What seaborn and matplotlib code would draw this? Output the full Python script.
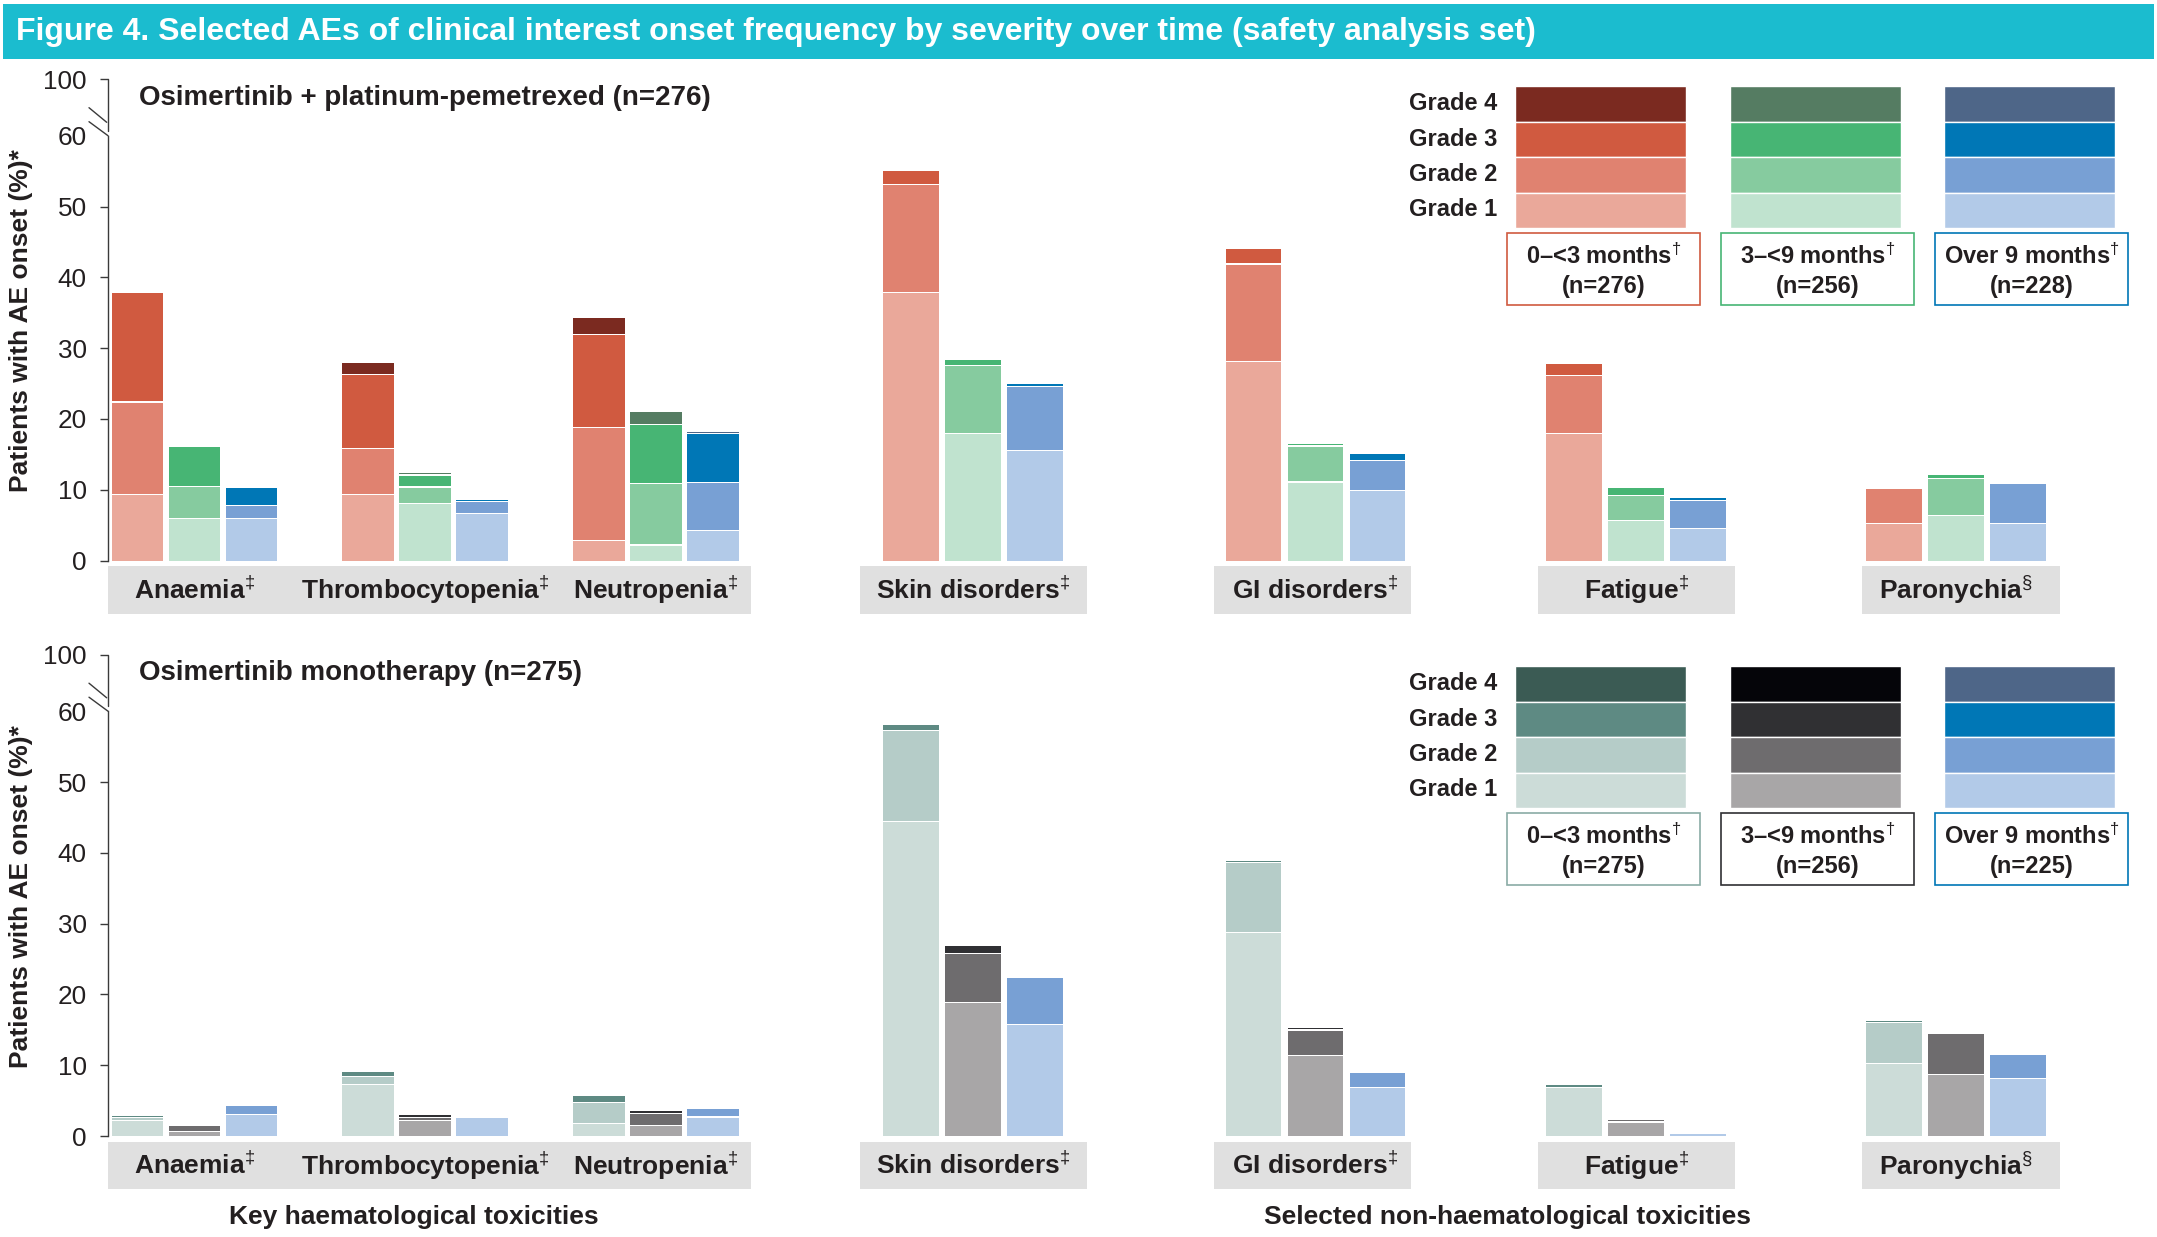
import numpy as np
import pandas as pd
import matplotlib
matplotlib.use("Agg")
import matplotlib.pyplot as plt
from matplotlib.patches import Rectangle
import seaborn as sns

# ------------------------------------------------------------------ data
categories = ["Anaemia", "Thrombocytopenia", "Neutropenia",
              "Skin disorders", "GI disorders", "Fatigue", "Paronychia"]
category_labels = ["Anaemia$^{‡}$", "Thrombocytopenia$^{‡}$", "Neutropenia$^{‡}$",
                   "Skin disorders$^{‡}$", "GI disorders$^{‡}$", "Fatigue$^{‡}$",
                   "Paronychia$^{§}$"]
haem_categories = ["Anaemia", "Thrombocytopenia", "Neutropenia"]
periods = ["0–<3 months", "3–<9 months", "Over 9 months"]
grades = ["Grade 1", "Grade 2", "Grade 3", "Grade 4"]

combo_title = "Osimertinib + platinum-pemetrexed (n=276)"
mono_title = "Osimertinib monotherapy (n=275)"
combo_period_n = [276, 256, 228]
mono_period_n = [275, 256, 225]

# Osimertinib + platinum-pemetrexed: % of patients, segment per grade
combo_p1_g1 = [9.2, 9.2, 2.7, 37.8, 28.0, 17.9, 5.1]
combo_p1_g2 = [13.1, 6.6, 16.0, 15.2, 13.8, 8.1, 5.0]
combo_p1_g3 = [15.5, 10.4, 13.1, 2.0, 2.2, 1.7, 0.0]
combo_p1_g4 = [0.0, 1.7, 2.5, 0.0, 0.0, 0.0, 0.0]

combo_p2_g1 = [5.8, 8.0, 2.1, 17.9, 11.0, 5.6, 6.3]
combo_p2_g2 = [4.6, 2.3, 8.7, 9.6, 5.1, 3.5, 5.2]
combo_p2_g3 = [5.6, 1.7, 8.3, 0.8, 0.4, 1.2, 0.6]
combo_p2_g4 = [0.0, 0.3, 1.9, 0.0, 0.0, 0.0, 0.0]

combo_p3_g1 = [5.9, 6.5, 4.2, 15.4, 9.8, 4.5, 5.2]
combo_p3_g2 = [1.8, 1.7, 6.7, 9.1, 4.3, 3.9, 5.6]
combo_p3_g3 = [2.6, 0.4, 6.9, 0.4, 0.9, 0.4, 0.0]
combo_p3_g4 = [0.0, 0.0, 0.4, 0.0, 0.0, 0.0, 0.0]

# Osimertinib monotherapy
mono_p1_g1 = [2.1, 7.2, 1.7, 44.3, 28.7, 6.8, 10.1]
mono_p1_g2 = [0.4, 1.1, 2.9, 12.9, 9.8, 0.0, 5.8]
mono_p1_g3 = [0.3, 0.7, 1.0, 0.8, 0.4, 0.35, 0.3]
mono_p1_g4 = [0.0, 0.0, 0.0, 0.0, 0.0, 0.0, 0.0]

mono_p2_g1 = [0.6, 2.1, 1.4, 18.8, 11.3, 1.9, 8.6]
mono_p2_g2 = [0.8, 0.4, 1.7, 6.9, 3.6, 0.35, 5.8]
mono_p2_g3 = [0.0, 0.4, 0.4, 1.1, 0.3, 0.0, 0.0]
mono_p2_g4 = [0.0, 0.0, 0.0, 0.0, 0.0, 0.0, 0.0]

mono_p3_g1 = [3.0, 2.5, 2.6, 15.7, 6.8, 0.3, 8.0]
mono_p3_g2 = [1.3, 0.0, 1.2, 6.6, 2.1, 0.0, 3.4]
mono_p3_g3 = [0.0, 0.0, 0.0, 0.0, 0.0, 0.0, 0.0]
mono_p3_g4 = [0.0, 0.0, 0.0, 0.0, 0.0, 0.0, 0.0]

y_ticks = [0, 10, 20, 30, 40, 50, 60]

# ------------------------------------------------------------------ style
combo_colors = [["#EAA89A", "#E08270", "#D05A40", "#7B2A20"],
                ["#C0E3CF", "#86CB9F", "#47B574", "#557C62"],
                ["#B2CAE8", "#78A0D4", "#0077B6", "#4E6688"]]
mono_colors = [["#CCDCD8", "#B5CCC8", "#5E8A83", "#3B5B54"],
               ["#A8A6A7", "#6E6C6E", "#303033", "#050509"],
               ["#B2CAE8", "#78A0D4", "#0077B6", "#4E6688"]]
combo_box_edges = ["#D05A40", "#47B574", "#0077B6"]
mono_box_edges = ["#8AABA5", "#303033", "#0077B6"]
TXT = "#231F20"
LABEL_BG = "#E0E0E0"
HEADER = "#1BBCCF"
SEP_GAP = 0.16   # white separator between stacked segments (data units)

sns.set_theme(style="white")
plt.rcParams["font.family"] = ["Liberation Sans", "DejaVu Sans"]
plt.rcParams["mathtext.fontset"] = "custom"
plt.rcParams["mathtext.rm"] = "Liberation Sans"
plt.rcParams["mathtext.bf"] = "Liberation Sans:bold"
plt.rcParams["mathtext.it"] = "Liberation Sans:italic"

W, H = 2157, 1237
fig = plt.figure(figsize=(W / 100, H / 100), dpi=100)

# layout (figure pixels)
group_centers = [194.5, 425, 656, 973, 1315.5, 1636, 1956]
pitch_haem, pitch_other = 57, 62
bar_frac = 0.895
ax_left_px, ax_right_px = 107.7, 2150
px_per_unit = 7.08
ymax = 70
break_top = 68.0          # data position at which "100" is drawn
panel_base = [560.5, 1136.0]  # y pixel of value 0

# ------------------------------------------------------------------ dataframe
panel_series = {
    "combo": [[combo_p1_g1, combo_p1_g2, combo_p1_g3, combo_p1_g4],
              [combo_p2_g1, combo_p2_g2, combo_p2_g3, combo_p2_g4],
              [combo_p3_g1, combo_p3_g2, combo_p3_g3, combo_p3_g4]],
    "mono": [[mono_p1_g1, mono_p1_g2, mono_p1_g3, mono_p1_g4],
             [mono_p2_g1, mono_p2_g2, mono_p2_g3, mono_p2_g4],
             [mono_p3_g1, mono_p3_g2, mono_p3_g3, mono_p3_g4]],
}
rows = []
for panel, per_period in panel_series.items():
    for pi, glists in enumerate(per_period):
        cum = np.cumsum(np.array(glists, dtype=float), axis=0)
        for gi in range(4):
            for ci, cat in enumerate(categories):
                haem = cat in haem_categories
                pitch = pitch_haem if haem else pitch_other
                below = cum[gi - 1, ci] if gi > 0 else 0.0
                rows.append(dict(panel=panel, period=periods[pi], grade=gi,
                                 category=cat, side="haem" if haem else "other",
                                 xpos=group_centers[ci] + (pi - 1) * pitch,
                                 cum=cum[gi, ci],
                                 sep=below + SEP_GAP if below > 0 else 0.0))
df = pd.DataFrame(rows)

# ------------------------------------------------------------------ overlay (figure px)
ov = fig.add_axes([0, 0, 1, 1], zorder=0)
ov.set_xlim(0, W)
ov.set_ylim(H, 0)
ov.axis("off")

ov.add_patch(Rectangle((3, 4), W - 6, 55, color=HEADER, lw=0))
ov.text(16, 32, "Figure 4. Selected AEs of clinical interest onset frequency by severity over time (safety analysis set)",
        color="white", fontsize=23, fontweight="bold", va="center", ha="left")

panels = [("combo", combo_title, combo_colors, combo_box_edges, combo_period_n),
          ("mono", mono_title, mono_colors, mono_box_edges, mono_period_n)]
leg_offsets = [0, 580]
label_boxes = [(108, 643), (860, 227), (1214, 197), (1538, 197), (1862, 198)]

for k, (pname, title, colors, edges, ns) in enumerate(panels):
    base = panel_base[k]
    dy = base - panel_base[0]
    ax = fig.add_axes([ax_left_px / W, 1 - base / H,
                       (ax_right_px - ax_left_px) / W, ymax * px_per_unit / H], zorder=2)
    ax.patch.set_alpha(0)
    for gi in [3, 2, 1, 0]:
        for side in ["haem", "other"]:
            sub = df[(df.panel == pname) & (df.grade == gi) & (df.side == side)]
            pal = {periods[p]: colors[p][gi] for p in range(3)}
            sns.barplot(data=sub, x="xpos", y="cum", hue="period", palette=pal,
                        hue_order=periods, native_scale=True, dodge=False,
                        width=bar_frac, errorbar=None, saturation=1, orient="x",
                        linewidth=0, legend=False, ax=ax)
            if gi > 0:
                # white separator carved above the next lower segment
                sns.barplot(data=sub, x="xpos", y="sep", color="white",
                            native_scale=True, width=bar_frac + 0.02, errorbar=None,
                            saturation=1, orient="x", linewidth=0, ax=ax)
    ax.set_xlim(ax_left_px, ax_right_px)
    ax.set_ylim(0, ymax)
    ax.set_xlabel("")
    ax.set_ylabel("")
    ax.set_xticks([])
    ax.set_yticks(y_ticks + [break_top])
    ax.set_yticklabels([str(t) for t in y_ticks] + ["100"], fontsize=18.8, color=TXT)
    ax.tick_params(axis="y", direction="out", length=6, width=1, color="#3a3a3a",
                   pad=9, left=True)
    ax.yaxis.get_major_ticks()[6].tick1line.set_visible(False)
    for s in ["top", "right", "bottom"]:
        ax.spines[s].set_visible(False)
    ax.spines["left"].set_bounds(0, 60)
    ax.spines["left"].set_color("#3a3a3a")
    ax.spines["left"].set_linewidth(1)
    ax.plot([0, 0], [60.7, break_top], transform=ax.get_yaxis_transform(),
            color="#3a3a3a", lw=1, clip_on=False)

    # axis-break slashes
    ov.plot([89, 106.7], [107.7 + dy, 122.3 + dy], color="#3a3a3a", lw=1)
    ov.plot([89, 108], [121.7 + dy, 135.7 + dy], color="#3a3a3a", lw=1)

    # y label
    ov.text(20.6, 321 + dy, "Patients with AE onset (%)*", rotation=90, ha="center",
            va="center", fontsize=19, fontweight="bold", color=TXT)
    # panel title
    ov.text(139, 97.7 + dy, title, ha="left", va="center", fontsize=20,
            fontweight="bold", color=TXT)
    # category label boxes
    for (bx, bw) in label_boxes:
        ov.add_patch(Rectangle((bx, 566 + dy), bw, 47.6, color=LABEL_BG, lw=0))
    for c, lab in zip(group_centers, category_labels):
        ov.text(c, 590 + dy, lab, ha="center", va="center", fontsize=19,
                fontweight="bold", color=TXT)

    # legend
    lo = leg_offsets[k]
    row_tops = [86, 121.5, 157, 192.5]  # grade 4 .. grade 1
    for r, gi in enumerate([3, 2, 1, 0]):
        ov.text(1497, row_tops[r] + 17.5 + lo, grades[gi], ha="right", va="center",
                fontsize=17, fontweight="bold", color=TXT)
        for p, sx in enumerate([1515, 1730, 1944]):
            ov.add_patch(Rectangle((sx, row_tops[r] + lo), 171, 35.5,
                                   facecolor=colors[p][gi], edgecolor="white", lw=1))
    for p, bx in enumerate([1507, 1721, 1935]):
        ov.add_patch(Rectangle((bx, 232.7 + lo), 193, 72.3, facecolor="none",
                               edgecolor=edges[p], lw=1.2))
        ov.text(bx + 96.5, 256.7 + lo, periods[p] + "$^{†}$", ha="center", va="center",
                fontsize=17, fontweight="bold", color=TXT)
        ov.text(bx + 96.5, 286.7 + lo, f"(n={ns[p]})", ha="center", va="center",
                fontsize=17, fontweight="bold", color=TXT)

ov.text(414, 1217, "Key haematological toxicities", ha="center", va="center",
        fontsize=19, fontweight="bold", color=TXT)
ov.text(1507, 1217, "Selected non-haematological toxicities", ha="center", va="center",
        fontsize=19, fontweight="bold", color=TXT)

fig.savefig("out.png", dpi=100)
